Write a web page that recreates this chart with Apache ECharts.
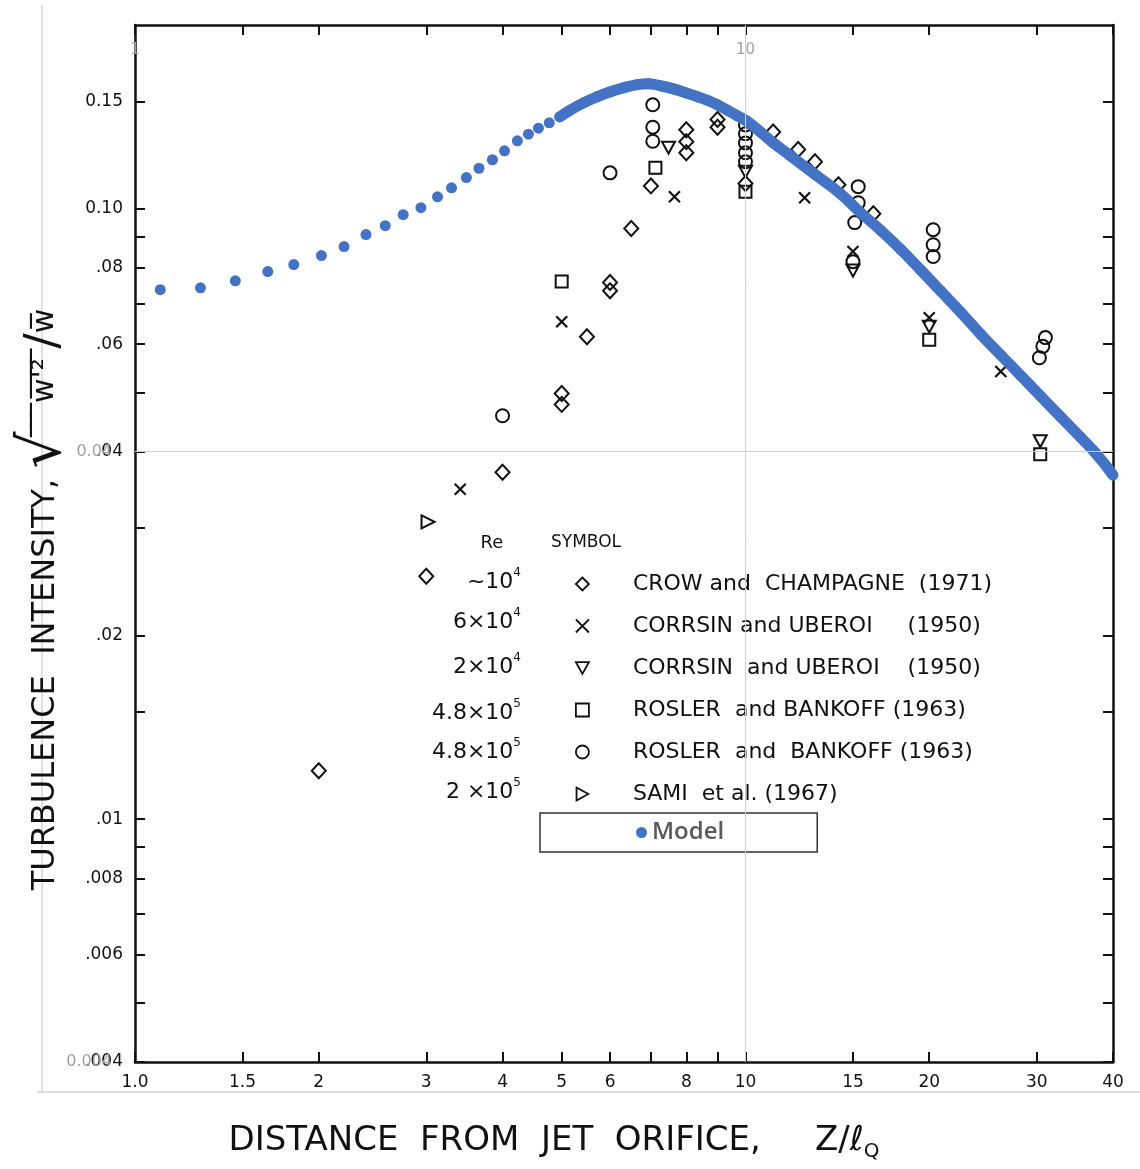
<!DOCTYPE html>
<html><head><meta charset="utf-8">
<script src="https://cdn.jsdelivr.net/npm/echarts@6/dist/echarts.min.js"></script>
<style>html,body{margin:0;padding:0;background:#fff}#c{width:1140px;height:1169px}</style>
</head><body><div id="c"></div>
<script>
// ---------- axis ticks / labels ----------
const xTickValues = [1, 1.5, 2, 3, 4, 5, 6, 7, 8, 9, 10, 15, 20, 30, 40];
const xLabelValues = [1, 1.5, 2, 3, 4, 5, 6, 8, 10, 15, 20, 30, 40];
const xLabelTexts = ['1.0', '1.5', '2', '3', '4', '5', '6', '8', '10', '15', '20', '30', '40'];
const yTickValues = [0.004, 0.005, 0.006, 0.007, 0.008, 0.009, 0.01, 0.015, 0.02, 0.03, 0.04, 0.05, 0.06, 0.07, 0.08, 0.09, 0.1, 0.15];
const yLabelValues = [0.004, 0.006, 0.008, 0.01, 0.02, 0.04, 0.06, 0.08, 0.1, 0.15];
const yLabelTexts = ['.004', '.006', '.008', '.01', '.02', '.04', '.06', '.08', '0.10', '0.15'];
const overlayXLabelValues = [1, 10];
const overlayXLabelTexts = ['1', '10'];
const overlayYLabelValues = [0.04, 0.004];
const overlayYLabelTexts = ['0.04', '0.004'];

// ---------- experimental data ----------
const crowX = [2.0, 3.0, 4.0, 5.0, 5.0, 5.5, 6.0, 6.0, 6.5, 7.0, 8.0, 8.0, 8.0, 9.0, 9.0, 10.0, 11.1, 12.2, 13.0, 14.2, 16.2];
const crowY = [0.0120, 0.0250, 0.0370, 0.0498, 0.0478, 0.0617, 0.0757, 0.0734, 0.0928, 0.109, 0.1347, 0.1288, 0.1235, 0.140, 0.136, 0.110, 0.1336, 0.125, 0.1194, 0.1095, 0.0981];
const corrsinXX = [3.41, 5.0, 7.65, 12.5, 15.0, 20.0, 26.2];
const corrsinXY = [0.0347, 0.0653, 0.1046, 0.1042, 0.0851, 0.0663, 0.0541];
const corrsinTX = [7.48, 10.0, 15.0, 20.0, 30.4];
const corrsinTY = [0.1259, 0.115, 0.0792, 0.0641, 0.0416];
const roslerSX = [5.0, 7.12, 10.0, 20.0, 30.4];
const roslerSY = [0.076, 0.1167, 0.1066, 0.061, 0.0396];
const roslerCX = [4.0, 6.0, 7.05, 7.05, 7.05, 10.0, 10.0, 10.0, 10.0, 10.0, 15.0, 15.3, 15.3, 15.1, 20.3, 20.3, 20.3, 31.0, 30.7, 30.3];
const roslerCY = [0.0458, 0.1145, 0.148, 0.136, 0.129, 0.1372, 0.1327, 0.1282, 0.1235, 0.1194, 0.0819, 0.1087, 0.1023, 0.0949, 0.0924, 0.0873, 0.0835, 0.0615, 0.0595, 0.0570];
const samiX = [3.02];
const samiY = [0.0307];

// ---------- model ----------
const modelX = [1.10, 1.28, 1.46, 1.65, 1.82, 2.02, 2.20, 2.39, 2.57, 2.75, 2.94, 3.13, 3.30, 3.49, 3.66, 3.85, 4.03, 4.23, 4.41, 4.58, 4.77, 4.96,
  5.17, 5.43, 5.72, 6.01, 6.31, 6.63, 6.93, 7.26, 7.62, 8.00, 8.34, 8.70, 9.00, 9.38, 9.70, 10.04, 10.58, 11.11, 11.85, 13.03, 14.31, 15.44,
  16.65, 17.96, 19.36, 20.88, 22.52, 24.28, 26.19, 28.24, 30.45, 32.84, 35.42, 37.76, 40.0];
const modelY = [0.0737, 0.0742, 0.0762, 0.0789, 0.0810, 0.0838, 0.0867, 0.0907, 0.0938, 0.0978, 0.1004, 0.1046, 0.1082, 0.1125, 0.1165, 0.1203, 0.1244, 0.1292, 0.1325, 0.1355, 0.1383, 0.1414,
  0.1452, 0.1491, 0.1526, 0.1555, 0.1578, 0.1596, 0.1602, 0.1590, 0.1572, 0.1548, 0.1526, 0.1503, 0.1480, 0.1447, 0.1420, 0.1393, 0.1336, 0.1282, 0.1221, 0.1136, 0.1058, 0.0985,
  0.0922, 0.0858, 0.0794, 0.0733, 0.0677, 0.0623, 0.0576, 0.0533, 0.0493, 0.0456, 0.0422, 0.0394, 0.0366];
const modelDenseFrom = 21; // index where the model dots start to overlap

// ---------- legend content ----------
const seriesKeys = ['crow', 'corrsinX', 'corrsinT', 'roslerS', 'roslerC', 'sami'];
const seriesLabels = ['CROW and  CHAMPAGNE  (1971)', 'CORRSIN and UBEROI     (1950)', 'CORRSIN  and UBEROI    (1950)',
  'ROSLER  and BANKOFF (1963)', 'ROSLER  and  BANKOFF (1963)', 'SAMI  et al. (1967)'];
const reBase = ['~10', '6×10', '2×10', '4.8×10', '4.8×10', '2 ×10'];
const reExp = ['4', '4', '4', '5', '5', '5'];

const F = '"DejaVu Sans", sans-serif';
const INK = '#111111';
const BLUE = '#4472C4';
const pts = (xs, ys) => xs.map((x, i) => [x, ys[i]]);
const lookup = (vals, texts) => v => { for (let i = 0; i < vals.length; i++) if (Math.abs(vals[i] - v) / vals[i] < 1e-6) return texts[i]; return ''; };

const hollow = { color: 'rgba(0,0,0,0)', borderColor: INK, borderWidth: 2, opacity: 1 };
const crossPath = 'path://M0,0L10,10M10,0L0,10';
const triDownPath = 'path://M0,0L10,0L5,9Z';
const triRightPath = 'path://M0,0L9,5L0,10Z';
const legendIcons = ['diamond', crossPath, triDownPath, 'rect', 'circle', triRightPath];
const OL = '\u0305';

const axisCommon = {
  type: 'log', logBase: 10,
  axisLine: { show: true, onZero: false, lineStyle: { color: INK, width: 2.5 } },
  splitLine: { show: false },
  minorTick: { show: false }
};

const chart = echarts.init(document.getElementById('c'), null, { renderer: 'canvas' });
const option = {
  animation: false,
  backgroundColor: '#fff',
  grid: { left: 135, right: 27, top: 25, bottom: 107 },
  xAxis: [
    Object.assign({}, axisCommon, {
      min: 1, max: 40, position: 'bottom',
      axisTick: { show: true, inside: true, length: 10, lineStyle: { color: INK, width: 2 }, customValues: xTickValues },
      axisLabel: { show: true, customValues: xLabelValues, formatter: lookup(xLabelValues, xLabelTexts), color: INK, fontFamily: F, fontSize: 17, margin: 12 },
      name: '{a|DISTANCE  FROM  JET  ORIFICE,}{g|     }{a|Z/ℓ}{s|Q}',
      nameLocation: 'middle', nameGap: 58,
      nameTextStyle: { padding: [0, 140, 0, 0], rich: {
        a: { fontFamily: F, fontSize: 34, color: INK, lineHeight: 42 },
        g: { fontFamily: F, fontSize: 34 },
        s: { fontFamily: F, fontSize: 20, color: INK, verticalAlign: 'bottom', lineHeight: 30 } } }
    }),
    Object.assign({}, axisCommon, {
      min: 1, max: 40, position: 'top',
      axisTick: { show: true, inside: true, length: 10, lineStyle: { color: INK, width: 2 }, customValues: xTickValues },
      axisLabel: { show: false }
    })
  ],
  yAxis: [
    Object.assign({}, axisCommon, {
      min: 0.004, max: 0.2, position: 'left',
      axisTick: { show: true, inside: true, length: 10, lineStyle: { color: INK, width: 2 }, customValues: yTickValues },
      axisLabel: { show: true, customValues: yLabelValues, formatter: lookup(yLabelValues, yLabelTexts), color: INK, fontFamily: F, fontSize: 17, margin: 12 },
      name: '{a|TURBULENCE  INTENSITY, }{r|√}{b| ' + OL + ' ' + OL + ' ' + OL + 'w' + OL + '\'' + OL + '²' + OL + ' ' + OL + '}{c|/}{b|w' + OL + '}',
      nameLocation: 'middle', nameGap: 60,
      nameTextStyle: { padding: [0, 112, 0, 0], rich: {
        a: { fontFamily: F, fontSize: 32, color: INK },
        r: { fontFamily: F, fontSize: 58, color: INK },
        b: { fontFamily: F, fontSize: 30, color: INK },
        c: { fontFamily: F, fontSize: 46, color: INK } } }
    }),
    Object.assign({}, axisCommon, {
      min: 0.004, max: 0.2, position: 'right',
      axisTick: { show: true, inside: true, length: 10, lineStyle: { color: INK, width: 2 }, customValues: yTickValues },
      axisLabel: { show: false }
    })
  ],
  legend: [
    {
      orient: 'vertical', left: 570, top: 567, itemWidth: 13, itemHeight: 13, itemGap: 18,
      data: seriesKeys.map((k, i) => ({ name: k, icon: legendIcons[i] })), selectedMode: false,
      itemStyle: { color: 'rgba(0,0,0,0)', borderColor: INK, borderWidth: 1.8, opacity: 1 },
      formatter: name => seriesLabels[seriesKeys.indexOf(name)],
      textStyle: { fontFamily: F, fontSize: 22, color: INK, lineHeight: 24, padding: [0, 0, 0, 39] }
    },
    {
      left: 540, top: 813, itemWidth: 11, itemHeight: 11, selectedMode: false,
      data: ['Model'], icon: 'circle',
      itemStyle: { color: BLUE, borderWidth: 0, opacity: 1 },
      borderColor: '#333', borderWidth: 1.5, padding: [6, 93, 6, 96],
      textStyle: { fontFamily: '"Open Sans", sans-serif', fontWeight: 600, fontSize: 24, color: '#595959', lineHeight: 27 }
    }
  ],
  series: [
    { name: 'crow', type: 'scatter', symbol: 'diamond', symbolSize: [14, 15], data: pts(crowX, crowY), itemStyle: hollow, z: 2,
      markLine: { silent: true, symbol: 'none', label: { show: false }, lineStyle: { color: '#cfcfcf', width: 1, type: 'solid' },
        data: [{ xAxis: 10 }, { yAxis: 0.04 }] } },
    { name: 'corrsinX', type: 'scatter', symbol: crossPath, symbolSize: 11, data: pts(corrsinXX, corrsinXY),
      itemStyle: { color: 'rgba(0,0,0,0)', borderColor: INK, borderWidth: 2.2, opacity: 1 }, z: 2 },
    { name: 'corrsinT', type: 'scatter', symbol: 'triangle', symbolRotate: 180, symbolSize: [13, 12], data: pts(corrsinTX, corrsinTY), itemStyle: hollow, z: 2 },
    { name: 'roslerS', type: 'scatter', symbol: 'rect', symbolSize: 12, data: pts(roslerSX, roslerSY), itemStyle: hollow, z: 2 },
    { name: 'roslerC', type: 'scatter', symbol: 'circle', symbolSize: 13, data: pts(roslerCX, roslerCY), itemStyle: hollow, z: 2 },
    { name: 'sami', type: 'scatter', symbol: 'triangle', symbolRotate: -90, symbolSize: [13, 13], data: pts(samiX, samiY), itemStyle: hollow, z: 2 },
    { name: 'Model curve', type: 'line', data: pts(modelX, modelY).slice(modelDenseFrom), showSymbol: false, smooth: 0.5,
      lineStyle: { color: BLUE, width: 11, opacity: 1 }, itemStyle: { color: BLUE }, z: 3, silent: true },
    { name: 'Model', type: 'scatter', symbol: 'circle', symbolSize: 11, data: pts(modelX, modelY), itemStyle: { color: BLUE, opacity: 1 }, z: 4 }
  ]
};
chart.setOption(option);

// overlay labels and decorations (positions of value labels from the axes' scales)
const g = [];
const topPx = chart.convertToPixel({ yAxisIndex: 0 }, 0.2);
overlayXLabelValues.forEach((v, i) => {
  const px = chart.convertToPixel({ xAxisIndex: 0 }, v);
  g.push({ type: 'text', z: 1, style: { text: overlayXLabelTexts[i], x: px, y: topPx + 25, align: 'center', verticalAlign: 'middle', fill: '#a0a0a0', font: '15px ' + F } });
});
overlayYLabelValues.forEach((v, i) => {
  const py = chart.convertToPixel({ yAxisIndex: 0 }, v);
  g.push({ type: 'text', z: 1, style: { text: overlayYLabelTexts[i], x: 112, y: py, align: 'right', verticalAlign: 'middle', fill: '#a0a0a0', font: '16px ' + F } });
});
g.push({ type: 'line', shape: { x1: 42, y1: 5, x2: 42, y2: 1093 }, style: { stroke: '#d6d6d6', lineWidth: 1.5 } });
g.push({ type: 'line', shape: { x1: 37, y1: 1092, x2: 1140, y2: 1092 }, style: { stroke: '#d6d6d6', lineWidth: 1.5 } });
g.push({ type: 'text', style: { text: 'Re', x: 492, y: 543, align: 'center', verticalAlign: 'middle', fill: INK, font: '18px ' + F } });
g.push({ type: 'text', style: { text: 'SYMBOL', x: 586, y: 543, align: 'center', verticalAlign: 'middle', fill: INK, font: '17px ' + F } });
const reRows = [580, 620, 665, 711, 750, 790];
reBase.forEach((b, i) => {
  g.push({ type: 'text', style: { text: '{n|' + b + '}{e|' + reExp[i] + '}', x: 521, y: reRows[i], align: 'right', verticalAlign: 'middle',
    rich: { n: { fontFamily: F, fontSize: 22, fill: INK, lineHeight: 26, verticalAlign: 'bottom' }, e: { fontFamily: F, fontSize: 12, fill: INK, verticalAlign: 'top', lineHeight: 12 } } } });
});
chart.setOption({ graphic: g });
</script></body></html>
